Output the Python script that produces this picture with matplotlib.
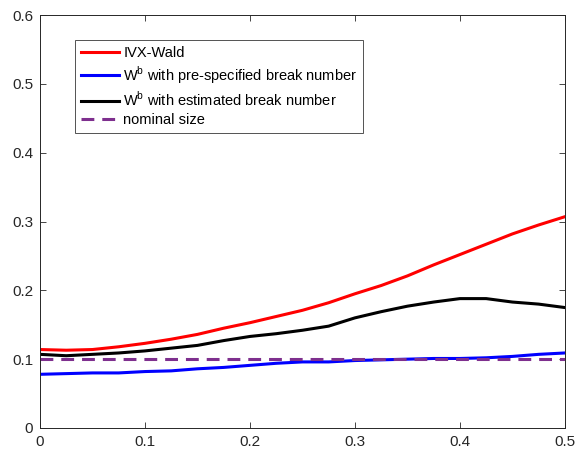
import numpy as np
import matplotlib.pyplot as plt

plt.rcParams['font.family'] = ['Liberation Sans', 'DejaVu Sans']
plt.rcParams['mathtext.fontset'] = 'custom'
plt.rcParams['mathtext.rm'] = 'Liberation Sans'

# break fraction grid
x = [0, 0.025, 0.05, 0.075, 0.1, 0.125, 0.15, 0.175, 0.2, 0.225, 0.25,
     0.275, 0.3, 0.325, 0.35, 0.375, 0.4, 0.425, 0.45, 0.475, 0.5]

ivx_wald = [0.114, 0.113, 0.114, 0.118, 0.123, 0.129, 0.136, 0.145, 0.153, 0.162, 0.171,
            0.182, 0.195, 0.207, 0.221, 0.237, 0.252, 0.267, 0.282, 0.295, 0.307]
wb_pre = [0.078, 0.079, 0.080, 0.080, 0.082, 0.083, 0.086, 0.088, 0.091, 0.094, 0.096,
          0.096, 0.098, 0.099, 0.100, 0.101, 0.101, 0.102, 0.104, 0.107, 0.109]
wb_est = [0.107, 0.105, 0.107, 0.109, 0.112, 0.116, 0.120, 0.127, 0.133, 0.137, 0.142,
          0.148, 0.160, 0.169, 0.177, 0.183, 0.188, 0.188, 0.183, 0.180, 0.175]
nominal = 0.1

fig = plt.figure(figsize=(5.77, 4.57), dpi=100)
ax = fig.add_axes([0.0693, 0.0635, 0.9097, 0.9035])

ax.plot(x, ivx_wald, color='#ff0000', lw=2.2, label='IVX-Wald')
ax.plot(x, wb_pre, color='#0000ff', lw=2.2, label='W$^{\\mathrm{b}}$ with pre-specified break number')
ax.plot(x, wb_est, color='black', lw=2.2, label='W$^{\\mathrm{b}}$ with estimated break number')
ax.plot([x[0], x[-1]], [nominal, nominal], color='#7e2f8e', lw=2.2, ls=(0, (4.2, 2.6)), label='nominal size')

ax.set_xlim(0, 0.5)
ax.set_ylim(0, 0.6)
ax.set_xticks([0, 0.1, 0.2, 0.3, 0.4, 0.5])
ax.set_xticklabels(['0', '0.1', '0.2', '0.3', '0.4', '0.5'])
ax.set_yticks([0, 0.1, 0.2, 0.3, 0.4, 0.5, 0.6])
ax.set_yticklabels(['0', '0.1', '0.2', '0.3', '0.4', '0.5', '0.6'])
ax.tick_params(direction='in', top=True, right=True, length=4, width=0.6,
               colors='#262626', labelsize=11, pad=5)
for s in ax.spines.values():
    s.set_color('#262626')
    s.set_linewidth(0.7)

leg = ax.legend(loc='upper left', bbox_to_anchor=(0.067, 0.94), borderaxespad=0,
                fancybox=False, edgecolor='#262626', fontsize=10.5, handlelength=2.6,
                handletextpad=0.3, labelspacing=0.3, borderpad=0.4)
leg.get_frame().set_linewidth(0.7)

fig.savefig('out.png')
